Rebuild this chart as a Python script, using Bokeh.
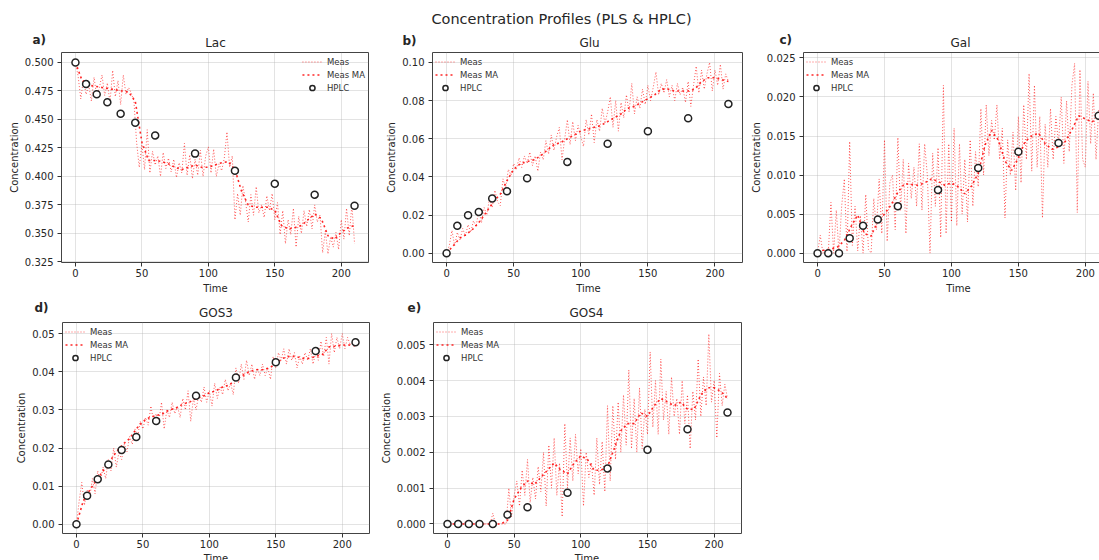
from bokeh.plotting import figure
from bokeh.models import Range1d, FixedTicker, PrintfTickFormatter, LinearAxis
from bokeh.layouts import row, column
from bokeh.embed import file_html
from bokeh.resources import INLINE
from bokeh.core.properties import value

# ---------------- data ----------------
T_MEAS = list(range(0, 211, 2))
T_MA = list(range(0, 211, 5))
T_HPLC = [0, 8, 16, 24, 34, 45, 60, 90, 120, 150, 180, 210]

LAC_MEAS = [
    0.500, 0.488, 0.468, 0.485, 0.472, 0.480, 0.466, 0.487, 0.470, 0.478,
    0.489, 0.471, 0.482, 0.465, 0.493, 0.470, 0.484, 0.463, 0.489, 0.472,
    0.478, 0.473, 0.466, 0.430, 0.408, 0.428, 0.406, 0.441, 0.403, 0.422,
    0.410, 0.418, 0.400, 0.421, 0.407, 0.416, 0.404, 0.415, 0.399, 0.412,
    0.403, 0.429, 0.401, 0.419, 0.398, 0.415, 0.401, 0.423, 0.400, 0.418,
    0.426, 0.403, 0.424, 0.400, 0.411, 0.405, 0.416, 0.439, 0.408, 0.418,
    0.362, 0.385, 0.366, 0.392, 0.378, 0.360, 0.384, 0.366, 0.391, 0.368,
    0.375, 0.364, 0.383, 0.370, 0.385, 0.362, 0.377, 0.349, 0.370, 0.341,
    0.362, 0.349, 0.372, 0.338, 0.365, 0.350, 0.370, 0.356, 0.371, 0.354,
    0.375, 0.360, 0.366, 0.333, 0.352, 0.332, 0.347, 0.338, 0.351, 0.336,
    0.362, 0.345, 0.372, 0.348, 0.375, 0.341]
LAC_MA = [
    0.500, 0.484, 0.480, 0.479, 0.478, 0.477, 0.476, 0.475, 0.474, 0.466,
    0.430, 0.414, 0.414, 0.413, 0.411, 0.408, 0.406, 0.408, 0.410, 0.408,
    0.408, 0.410, 0.412, 0.413, 0.406, 0.387, 0.375, 0.373, 0.373, 0.373,
    0.370, 0.357, 0.354, 0.355, 0.357, 0.362, 0.367, 0.363, 0.348, 0.345,
    0.351, 0.355, 0.357]
LAC_HPLC = [0.500, 0.481, 0.472, 0.465, 0.455, 0.447, 0.436, 0.420, 0.405, 0.3935, 0.384, 0.3743]

GLU_MEAS = [
    0.000, 0.004, 0.012, 0.004, 0.011, 0.007, 0.013, 0.009, 0.015, 0.011,
    0.017, 0.014, 0.023, 0.016, 0.024, 0.020, 0.029, 0.024, 0.033, 0.027,
    0.025, 0.039, 0.034, 0.044, 0.041, 0.047, 0.044, 0.050, 0.045, 0.051,
    0.047, 0.053, 0.046, 0.051, 0.043, 0.053, 0.049, 0.059, 0.052, 0.062,
    0.054, 0.061, 0.066, 0.049, 0.060, 0.070, 0.057, 0.069, 0.059, 0.067,
    0.061, 0.056, 0.070, 0.062, 0.073, 0.058, 0.070, 0.064, 0.076, 0.068,
    0.074, 0.082, 0.066, 0.080, 0.064, 0.079, 0.071, 0.083, 0.074, 0.089,
    0.073, 0.082, 0.076, 0.086, 0.078, 0.088, 0.080, 0.087, 0.095, 0.083,
    0.089, 0.084, 0.091, 0.082, 0.088, 0.080, 0.089, 0.083, 0.087, 0.079,
    0.090, 0.077, 0.088, 0.098, 0.084, 0.096, 0.086, 0.094, 0.100, 0.085,
    0.096, 0.088, 0.099, 0.086, 0.094, 0.090]
GLU_MA = [
    0.000, 0.004, 0.008, 0.010, 0.013, 0.017, 0.022, 0.027, 0.031, 0.038,
    0.044, 0.047, 0.048, 0.049, 0.051, 0.054, 0.057, 0.058, 0.060, 0.062,
    0.064, 0.065, 0.066, 0.067, 0.069, 0.071, 0.073, 0.076, 0.077, 0.079,
    0.081, 0.083, 0.086, 0.086, 0.085, 0.085, 0.085, 0.086, 0.090, 0.092,
    0.092, 0.091, 0.090]
GLU_HPLC = [0.000, 0.0144, 0.0199, 0.0216, 0.0287, 0.0325, 0.0393, 0.0479, 0.0574, 0.0640, 0.0708, 0.0782]

GAL_MEAS = [
    0.0000, 0.0023, 0.0000, 0.0005, 0.0000, 0.0065, 0.0000, 0.0055, 0.0000, 0.0060,
    0.0095, 0.0002, 0.0143, 0.0010, 0.0060, 0.0003, 0.0048, 0.0000, 0.0075, 0.0005,
    0.0000, 0.0070, 0.0030, 0.0095, 0.0025, 0.0145, 0.0015, 0.0090, 0.0100, 0.0030,
    0.0148, 0.0055, 0.0120, 0.0025, 0.0115, 0.0070, 0.0110, 0.0060, 0.0140, 0.0055,
    0.0140, 0.0100, 0.0000, 0.0128, 0.0060, 0.0135, 0.0020, 0.0215, 0.0025, 0.0140,
    0.0040, 0.0160, 0.0035, 0.0140, 0.0050, 0.0120, 0.0040, 0.0145, 0.0060, 0.0130,
    0.0085, 0.0185, 0.0100, 0.0190, 0.0125, 0.0170, 0.0145, 0.0190, 0.0120, 0.0160,
    0.0045, 0.0145, 0.0100, 0.0155, 0.0080, 0.0175, 0.0090, 0.0190, 0.0120, 0.0230,
    0.0105, 0.0215, 0.0110, 0.0175, 0.0045, 0.0165, 0.0110, 0.0185, 0.0120, 0.0175,
    0.0140, 0.0200, 0.0115, 0.0195, 0.0130, 0.0215, 0.0243, 0.0052, 0.0235, 0.0120,
    0.0110, 0.0220, 0.0140, 0.0205, 0.0120, 0.0185]
GAL_MA = [
    0.0002, 0.0004, 0.0005, 0.0008, 0.0016, 0.0034, 0.0049, 0.0025, 0.0022, 0.0041,
    0.0050, 0.0062, 0.0078, 0.0089, 0.0088, 0.0087, 0.0090, 0.0095, 0.0092, 0.0087,
    0.0090, 0.0085, 0.0076, 0.0086, 0.0102, 0.0138, 0.0157, 0.0145, 0.0118, 0.0106,
    0.0122, 0.0143, 0.0150, 0.0154, 0.0140, 0.0133, 0.0136, 0.0143, 0.0158, 0.0176,
    0.0172, 0.0168, 0.0175]
GAL_HPLC = [0.0, 0.0, 0.0, 0.0019, 0.0035, 0.0043, 0.0060, 0.0081, 0.0109, 0.0130, 0.0141, 0.0176]

GOS3_MEAS = [
    0.000, 0.006, 0.011, 0.005, 0.009, 0.007, 0.012, 0.008, 0.014, 0.011,
    0.015, 0.012, 0.017, 0.014, 0.020, 0.015, 0.019, 0.017, 0.021, 0.019,
    0.023, 0.021, 0.025, 0.023, 0.027, 0.025, 0.028, 0.026, 0.031, 0.027,
    0.029, 0.027, 0.032, 0.025, 0.030, 0.028, 0.032, 0.029, 0.031, 0.028,
    0.033, 0.030, 0.035, 0.027, 0.033, 0.030, 0.034, 0.032, 0.036, 0.032,
    0.035, 0.031, 0.037, 0.033, 0.036, 0.034, 0.038, 0.035, 0.037, 0.034,
    0.041, 0.037, 0.042, 0.038, 0.043, 0.039, 0.042, 0.038, 0.041, 0.039,
    0.042, 0.039, 0.041, 0.038, 0.044, 0.041, 0.045, 0.043, 0.046, 0.042,
    0.046, 0.043, 0.045, 0.041, 0.044, 0.042, 0.045, 0.043, 0.046, 0.042,
    0.045, 0.043, 0.048, 0.044, 0.049, 0.042, 0.050, 0.045, 0.049, 0.046,
    0.050, 0.046, 0.049, 0.047, 0.048, 0.047]
GOS3_MA = [
    0.000, 0.006, 0.009, 0.0115, 0.014, 0.0165, 0.019, 0.021, 0.0225, 0.025,
    0.027, 0.028, 0.0285, 0.029, 0.030, 0.0305, 0.0315, 0.032, 0.033, 0.0335,
    0.0345, 0.035, 0.036, 0.0365, 0.038, 0.039, 0.040, 0.0405, 0.0405, 0.041,
    0.042, 0.0435, 0.044, 0.044, 0.0435, 0.0435, 0.044, 0.0445, 0.0465, 0.0467,
    0.047, 0.047, 0.0468]
GOS3_HPLC = [0.0, 0.0075, 0.0118, 0.0157, 0.0195, 0.0229, 0.0271, 0.0337, 0.0385, 0.0425, 0.0454, 0.0477]

GOS4_MEAS = [
    0.0000, 0.0000, 0.0000, 0.0000, 0.0000, 0.0000, 0.0000, 0.0001, 0.0000, 0.0000,
    0.0000, 0.0000, 0.0001, 0.0000, 0.0000, 0.0000, 0.0000, 0.0003, 0.0000, 0.0000,
    0.0000, 0.0000, 0.0000, 0.0010, 0.0002, 0.0008, 0.0012, 0.0005, 0.0015, 0.0008,
    0.0018, 0.0006, 0.0013, 0.0007, 0.0016, 0.0009, 0.0020, 0.0005, 0.0022, 0.0010,
    0.0024, 0.0008, 0.0017, 0.0002, 0.0028, 0.0010, 0.0024, 0.0012, 0.0025, 0.0014,
    0.0021, 0.0005, 0.0020, 0.0013, 0.0017, 0.0008, 0.0024, 0.0011, 0.0023, 0.0009,
    0.0033, 0.0012, 0.0033, 0.0018, 0.0034, 0.0020, 0.0036, 0.0022, 0.0043, 0.0021,
    0.0035, 0.0020, 0.0038, 0.0021, 0.0032, 0.0025, 0.0048, 0.0027, 0.0040, 0.0025,
    0.0046, 0.0029, 0.0037, 0.0025, 0.0041, 0.0030, 0.0035, 0.0025, 0.0040, 0.0028,
    0.0036, 0.0021, 0.0037, 0.0029, 0.0046, 0.0030, 0.0041, 0.0033, 0.0053, 0.0034,
    0.0040, 0.0024, 0.0042, 0.0033, 0.0039, 0.0035]
GOS4_MA = [
    0.0, 0.0, 0.0, 0.0, 0.0, 0.0, 0.0, 0.0, 0.0, 0.0001,
    0.0007, 0.0010, 0.0012, 0.0011, 0.0013, 0.0015, 0.0017, 0.0015, 0.0014, 0.0017,
    0.0019, 0.0018, 0.0015, 0.0015, 0.0016, 0.0021, 0.0026, 0.0028, 0.0028, 0.0031,
    0.0030, 0.0033, 0.0035, 0.0034, 0.0033, 0.0034, 0.0032, 0.0032, 0.0036, 0.0038,
    0.0038, 0.0037, 0.0035]
GOS4_HPLC = [0.0, 0.0, 0.0, 0.0, 0.0, 0.00026, 0.00047, 0.00087, 0.00155, 0.00207, 0.00264, 0.00311]

X_TICKS = [0, 50, 100, 150, 200]
LAC_TICKS = [0.325, 0.350, 0.375, 0.400, 0.425, 0.450, 0.475, 0.500]
GLU_TICKS = [0.00, 0.02, 0.04, 0.06, 0.08, 0.10]
GAL_TICKS = [0.000, 0.005, 0.010, 0.015, 0.020, 0.025]
GOS3_TICKS = [0.00, 0.01, 0.02, 0.03, 0.04, 0.05]
GOS4_TICKS = [0.000, 0.001, 0.002, 0.003, 0.004, 0.005]

FONT = "DejaVu Sans"
TXT = "#262626"


def make_panel(meas, ma, hplc, y_range, y_ticks, fmt, legend_loc,
               w, h, bl, br, bt, bb, x_end=220.5, cut=False):
    p = figure(width=w, height=h, output_backend="svg", toolbar_location=None,
               x_range=Range1d(-10.5, x_end), y_range=Range1d(*y_range),
               min_border_left=bl, min_border_right=br, min_border_top=bt,
               min_border_bottom=bb, background_fill_color="white",
               border_fill_color="white")

    p.line(T_MEAS, meas, line_color="#ff0000", line_alpha=0.65, line_width=1,
           line_dash="1 2", legend_label="Meas")
    p.line(T_MA, ma, line_color="#ff0000", line_alpha=0.85, line_width=1.6,
           line_dash="2 3", legend_label="Meas MA")
    p.scatter(T_HPLC, hplc, marker="circle", size=7, fill_color="white",
              line_color="#222222", line_width=1.5, legend_label="HPLC")

    p.xaxis.ticker = FixedTicker(ticks=X_TICKS)
    p.yaxis.ticker = FixedTicker(ticks=y_ticks)
    p.yaxis.formatter = PrintfTickFormatter(format=fmt)
    for ax in (p.xaxis, p.yaxis):
        ax.major_label_text_font = FONT
        ax.major_label_text_font_size = "10px"
        ax.major_label_text_color = TXT
        ax.major_tick_out = 4
        ax.major_tick_in = 0
        ax.minor_tick_out = 0
        ax.minor_tick_in = 0
        ax.major_tick_line_color = "#333333"
        ax.axis_line_color = "#444444" if cut else None
    p.xaxis.major_label_standoff = 2
    p.yaxis.major_label_standoff = 4
    p.yaxis.axis_label = "Concentration"
    p.yaxis.axis_label_text_font = FONT
    p.yaxis.axis_label_text_font_size = "10px"
    p.yaxis.axis_label_text_font_style = "normal"
    p.yaxis.axis_label_text_color = TXT
    p.yaxis.axis_label_standoff = 2

    p.grid.grid_line_color = "#b0b0b0"
    p.grid.grid_line_alpha = 0.35
    if cut:
        p.outline_line_color = None
        top = LinearAxis(ticker=FixedTicker(ticks=[]), axis_line_color="#444444",
                         major_tick_out=0, minor_tick_out=0,
                         major_label_text_alpha=0)
        p.add_layout(top, "above")
    else:
        p.outline_line_color = "#444444"
        p.outline_line_width = 1

    lg = p.legend[0]
    lg.location = legend_loc
    lg.background_fill_alpha = 0
    lg.border_line_color = None
    lg.margin = 3
    lg.padding = 7
    lg.spacing = 0
    lg.label_height = 13
    lg.glyph_height = 13
    lg.glyph_width = 20
    lg.label_standoff = 5
    lg.label_text_font = FONT
    lg.label_text_font_size = "8.5px"
    lg.label_text_color = "#333333"
    return p


def strip(width, height, items):
    s = figure(width=width, height=height, output_backend="svg", toolbar_location=None,
               x_range=Range1d(0, width), y_range=Range1d(height, 0), min_border=0,
               x_axis_location=None, y_axis_location=None, outline_line_color=None,
               background_fill_color="white", border_fill_color="white")
    s.grid.visible = False
    for txt, x, y, size, bold, align in items:
        s.text(x=[x], y=[y], text=[txt], text_font=value(FONT), text_font_size=size,
               text_font_style="bold" if bold else "normal", text_align=align,
               text_baseline="middle", text_color=TXT)
    return s


# top strip: main title, panel tags and titles of row 1
s1 = strip(1099, 50, [
    ("Concentration Profiles (PLS & HPLC)", 561, 18, "14.5px", False, "center"),
    ("a)", 32, 39, "12px", True, "left"),
    ("Lac", 215, 42, "12px", False, "center"),
    ("b)", 402, 40, "12px", True, "left"),
    ("Glu", 589, 42, "12px", False, "center"),
    ("c)", 779, 39, "12px", True, "left"),
    ("Gal", 960, 42, "12px", False, "center"),
])

pa = make_panel(LAC_MEAS, LAC_MA, LAC_HPLC, (0.3245, 0.5087), LAC_TICKS, "%.3f",
                "top_right", 378, 232, 61, 10, 2, 20)
pb = make_panel(GLU_MEAS, GLU_MA, GLU_HPLC, (-0.0048, 0.1052), GLU_TICKS, "%.2f",
                "top_left", 369, 232, 54, 5, 2, 20)
pc = make_panel(GAL_MEAS, GAL_MA, GAL_HPLC, (-0.0012, 0.0257), GAL_TICKS, "%.3f",
                "top_left", 352, 232, 56, 0, 2, 20, x_end=210.6, cut=True)

# middle strip: x labels of row 1, tags and titles of row 2
s2 = strip(1099, 38, [
    ("Time", 215, 6, "10px", False, "center"),
    ("Time", 588, 6, "10px", False, "center"),
    ("Time", 958, 6, "10px", False, "center"),
    ("d)", 34, 25, "12px", True, "left"),
    ("GOS3", 215.5, 30, "12px", False, "center"),
    ("e)", 407, 25, "12px", True, "left"),
    ("GOS4", 586, 30, "12px", False, "center"),
])

pd = make_panel(GOS3_MEAS, GOS3_MA, GOS3_HPLC, (-0.0024, 0.0529), GOS3_TICKS, "%.2f",
                "top_left", 377, 233, 62, 8, 2, 20)
pe = make_panel(GOS4_MEAS, GOS4_MA, GOS4_HPLC, (-0.000265, 0.00562), GOS4_TICKS, "%.3f",
                "top_left", 370, 233, 55, 6, 2, 20)

# bottom strip: x labels of row 2 (the page edge cuts them, as in the reference)
s3 = strip(1099, 20, [
    ("Time", 215.5, 4.5, "10px", False, "center"),
    ("Time", 586.5, 4.5, "10px", False, "center"),
])

layout = column(s1, row(pa, pb, pc), s2, row(pd, pe), s3)
open("out.html", "w").write(file_html(layout, INLINE))
